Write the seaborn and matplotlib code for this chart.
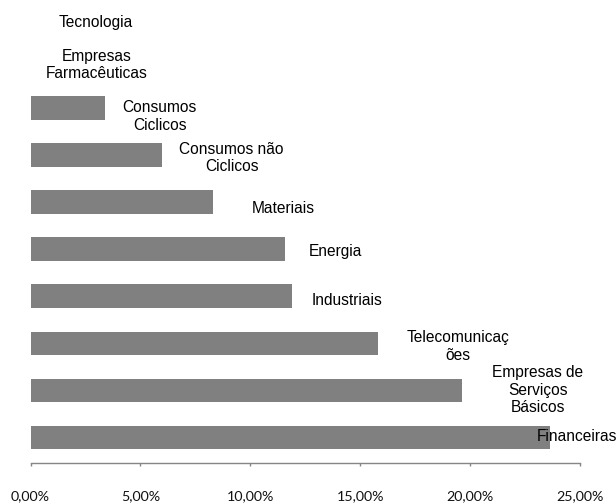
import matplotlib
matplotlib.use("Agg")
import matplotlib.pyplot as plt
import seaborn as sns
import pandas as pd
from matplotlib.ticker import FuncFormatter

# Sector weights (%)
sectors = [
    "Tecnologia",
    "Empresas\nFarmacêuticas",
    "Consumos\nCiclicos",
    "Consumos não\nCiclicos",
    "Materiais",
    "Energia",
    "Industriais",
    "Telecomunicaç\nões",
    "Empresas de\nServiços\nBásicos",
    "Financeiras",
]
weights = [0.0, 0.0, 3.41, 5.97, 8.32, 11.60, 11.88, 15.79, 19.64, 23.62]
x_ticks = [0, 5, 10, 15, 20, 25]

# Label placement relative to each bar end, in pixels (right, down)
label_dx = [65, 65.8, 54.4, 70, 69.7, 50, 55.5, 80.5, 75.6, 27]
label_dy = [8.8, 4.5, 8.5, 3.3, 6.2, 2.0, 4.2, 3.3, -0.5, -0.9]

df = pd.DataFrame({"sector": sectors, "weight": weights})

sns.set_theme(style="white")
plt.rcParams["font.family"] = ["Liberation Sans", "DejaVu Sans"]

DPI = 100
PX = 72.0 / DPI
fig = plt.figure(figsize=(6.16, 5.03), dpi=DPI)
ax = fig.add_axes([30.5 / 616, (503 - 463.3) / 503, (580 - 30.5) / 616, 463.3 / 503])

sns.barplot(data=df, x="weight", y="sector", orient="h", color="#808080",
            saturation=1, width=0.5, ax=ax, linewidth=0)

ax.set_xlim(0, 25)
ax.set_ylim(9.543, -0.285)
ax.set_xticks(x_ticks)
ax.xaxis.set_major_formatter(FuncFormatter(lambda v, _: f"{v:.2f}%".replace(".", ",")))
ax.set_xlabel("")
ax.set_ylabel("")
ax.set_yticks([])

for side in ("top", "right", "left"):
    ax.spines[side].set_visible(False)
ax.spines["bottom"].set_color("#868686")
ax.spines["bottom"].set_linewidth(1.0)
ax.tick_params(axis="x", direction="out", length=3 * PX, width=1.0, color="#868686",
               pad=17.5, labelsize=10.3, labelcolor="#111111", bottom=True)
for lbl in ax.get_xticklabels():
    lbl.set_fontfamily(["Lato", "DejaVu Sans"])

for i, (name, val) in enumerate(zip(sectors, weights)):
    ax.annotate(name, xy=(val, i), xytext=(label_dx[i] * PX, -label_dy[i] * PX),
                textcoords="offset points", ha="center", va="center",
                multialignment="center", fontsize=11.2, color="black",
                linespacing=1.22, annotation_clip=False)

fig.savefig("out.png", dpi=DPI)
